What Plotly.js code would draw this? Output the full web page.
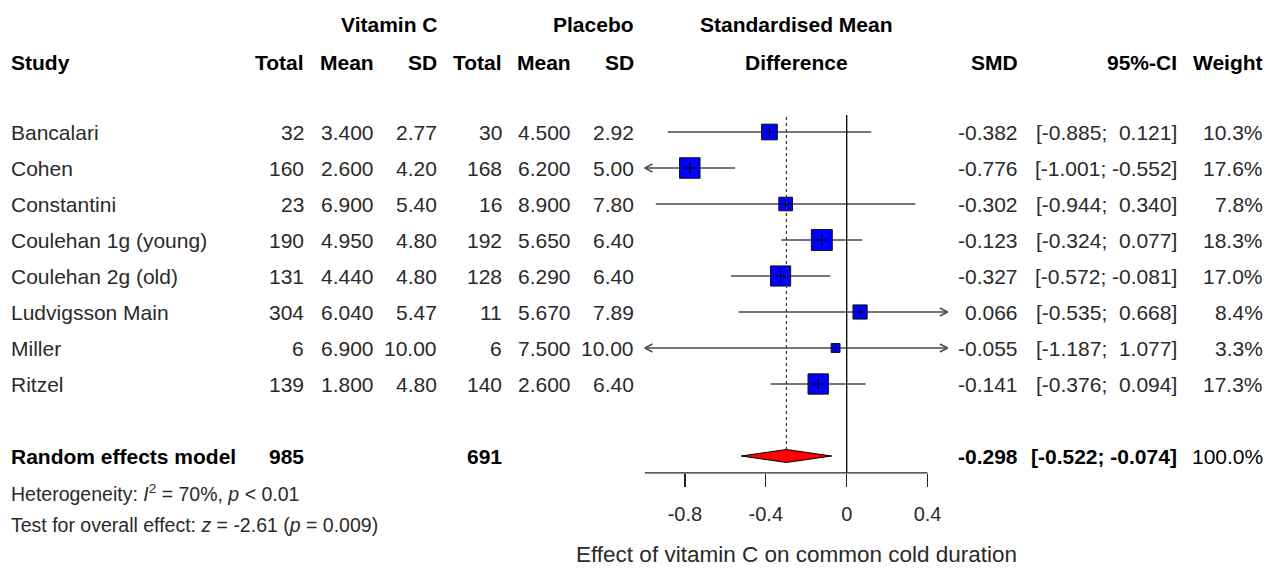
<!DOCTYPE html>
<html>
<head>
<meta charset="utf-8">
<script src="https://cdn.plot.ly/plotly-3.0.1.min.js"></script>
<style>html,body{margin:0;padding:0;background:#fff;}#chart{width:1278px;height:568px;}</style>
</head>
<body>
<div id="chart"></div>
<script>
// ---------------- data ----------------
const studies = ["Bancalari","Cohen","Constantini","Coulehan 1g (young)","Coulehan 2g (old)","Ludvigsson Main","Miller","Ritzel"];
const totalVitC = [32,160,23,190,131,304,6,139];
const meanVitC  = [3.400,2.600,6.900,4.950,4.440,6.040,6.900,1.800];
const sdVitC    = [2.77,4.20,5.40,4.80,4.80,5.47,10.00,4.80];
const totalPlac = [30,168,16,192,128,11,6,140];
const meanPlac  = [4.500,6.200,8.900,5.650,6.290,5.670,7.500,2.600];
const sdPlac    = [2.92,5.00,7.80,6.40,6.40,7.89,10.00,6.40];
const smd       = [-0.382,-0.776,-0.302,-0.123,-0.327,0.066,-0.055,-0.141];
const ciLower   = [-0.885,-1.001,-0.944,-0.324,-0.572,-0.535,-1.187,-0.376];
const ciUpper   = [0.121,-0.552,0.340,0.077,-0.081,0.668,1.077,0.094];
const weights   = [10.3,17.6,7.8,18.3,17.0,8.4,3.3,17.3];
const summaryLabel = "Random effects model";
const summaryTotalVitC = 985;
const summaryTotalPlac = 691;
const summarySMD = -0.298;
const summaryLower = -0.522;
const summaryUpper = -0.074;
const summaryWeight = 100.0;
const tickVals = [-0.8,-0.4,0,0.4];
const tickLabels = ["-0.8","-0.4","0","0.4"];
const xLimits = [-1.0, 0.5];
const axisLineEnd = 0.4;
const heterogeneityText = "Heterogeneity: <i>I</i><sup>2</sup> = 70%, <i>p</i> &lt; 0.01";
const overallText = "Test for overall effect: <i>z</i> = -2.61 (<i>p</i> = 0.009)";
const xTitle = "Effect of vitamin C on common cold duration";

// ---------------- layout helpers ----------------
const W = 1278, H = 568;
const ROW0 = 132, ROWH = 36;           // pixel of first study row & spacing
const yTop = (0 - ROW0) / ROWH, yBot = (H - ROW0) / ROWH;
const rows = studies.map((s, i) => i);
const rowSummary = 9, rowHet = 10.03, rowTest = 10.92, rowTitle = 11.74;
const rowHead1 = -2.99, rowHead2 = -1.94;
const axisRow = 9.47;

const REG = "#2a2a2a", FONT = "Liberation Sans, Arial, sans-serif", FS = 21;
const annotations = [];
function txt(text, xpx, row, anchor, opt) {
  opt = opt || {};
  annotations.push({
    text: text, xref: "paper", yref: "y", x: xpx / W, y: row,
    xanchor: anchor, yanchor: "middle", showarrow: false,
    borderpad: 0, borderwidth: 0,
    font: {family: FONT, size: opt.size || FS, color: opt.color || REG}
  });
}
const B = s => "<b>" + s + "</b>";
const nb = s => s.replace(/ /g, "\u00A0");
function ciStr(lo, hi) {
  const l = lo.toFixed(3), h = hi.toFixed(3);
  return nb("[" + l + ";" + (hi >= 0 ? "  " : " ") + h + "]");
}

// column x positions (pixels, right edge unless noted)
const col = {study: 11, nE: 303.5, mE: 373.5, sE: 436.5, nC: 501.5, mC: 570.5, sC: 633.5,
             plotMid: 796, smd: 1018, ci: 1176.5, w: 1262.5};

// headers
txt(B("Vitamin C"), col.sE, rowHead1, "right", {color: "#000"});
txt(B("Placebo"), col.sC, rowHead1, "right", {color: "#000"});
txt(B("Standardised Mean"), col.plotMid, rowHead1, "center", {color: "#000"});
txt(B("Study"), col.study, rowHead2, "left", {color: "#000"});
txt(B("Total"), col.nE, rowHead2, "right", {color: "#000"});
txt(B("Mean"), col.mE, rowHead2, "right", {color: "#000"});
txt(B("SD"), col.sE, rowHead2, "right", {color: "#000"});
txt(B("Total"), col.nC, rowHead2, "right", {color: "#000"});
txt(B("Mean"), col.mC, rowHead2, "right", {color: "#000"});
txt(B("SD"), col.sC, rowHead2, "right", {color: "#000"});
txt(B("Difference"), col.plotMid, rowHead2, "center", {color: "#000"});
txt(B("SMD"), col.smd, rowHead2, "right", {color: "#000"});
txt(B("95%-CI"), col.ci, rowHead2, "right", {color: "#000"});
txt(B("Weight"), col.w, rowHead2, "right", {color: "#000"});

// study rows
studies.forEach((s, i) => {
  const r = rows[i];
  txt(s, col.study, r, "left");
  txt(String(totalVitC[i]), col.nE, r, "right");
  txt(meanVitC[i].toFixed(3), col.mE, r, "right");
  txt(sdVitC[i].toFixed(2), col.sE, r, "right");
  txt(String(totalPlac[i]), col.nC, r, "right");
  txt(meanPlac[i].toFixed(3), col.mC, r, "right");
  txt(sdPlac[i].toFixed(2), col.sC, r, "right");
  txt(smd[i].toFixed(3), col.smd, r, "right");
  txt(ciStr(ciLower[i], ciUpper[i]), col.ci, r, "right");
  txt(weights[i].toFixed(1) + "%", col.w, r, "right");
});

// summary row
txt(B(summaryLabel), col.study, rowSummary, "left", {color: "#000"});
txt(B(String(summaryTotalVitC)), col.nE, rowSummary, "right", {color: "#000"});
txt(B(String(summaryTotalPlac)), col.nC, rowSummary, "right", {color: "#000"});
txt(B(summarySMD.toFixed(3)), col.smd, rowSummary, "right", {color: "#000"});
txt(B(ciStr(summaryLower, summaryUpper)), col.ci, rowSummary, "right", {color: "#000"});
txt(summaryWeight.toFixed(1) + "%", col.w, rowSummary, "right", {color: "#000"});

// footnotes
txt(heterogeneityText, col.study, rowHet, "left", {size: 19.5});
txt(overallText, col.study, rowTest, "left", {size: 19.5});

// x-axis title (placed as annotation under the axis)
txt(xTitle, col.plotMid, rowTitle, "center", {size: 22.5});

// ---------------- traces ----------------
const clip = v => Math.max(xLimits[0], Math.min(xLimits[1], v));
const ciX = [], ciY = [];
const shapes = [];
const LINEC = "#4a4a4a";
studies.forEach((s, i) => {
  ciX.push(clip(ciLower[i]), clip(ciUpper[i]), null);
  ciY.push(rows[i], rows[i], null);
  if (ciLower[i] < xLimits[0]) {
    shapes.push({type: "path", xref: "x", yref: "y", xsizemode: "pixel", ysizemode: "pixel",
      xanchor: xLimits[0], yanchor: rows[i], path: "M8,4 L0,0 L8,-4",
      line: {color: LINEC, width: 1.5}});
  }
  if (ciUpper[i] > xLimits[1]) {
    shapes.push({type: "path", xref: "x", yref: "y", xsizemode: "pixel", ysizemode: "pixel",
      xanchor: xLimits[1], yanchor: rows[i], path: "M-8,4 L0,0 L-8,-4",
      line: {color: LINEC, width: 1.5}});
  }
});

const sqSize = weights.map(w => 20.5 * Math.sqrt(w / 17.6));

const diamondH = 0.18;
const traces = [
  {x: ciX, y: ciY, mode: "lines", line: {color: LINEC, width: 1.5}, cliponaxis: false, hoverinfo: "skip"},
  {x: smd, y: rows, mode: "markers", cliponaxis: false,
   marker: {symbol: "square", size: sqSize, opacity: 1, color: "#0000ff", line: {color: "#111", width: 1}}},
  {x: smd, y: rows, mode: "markers", cliponaxis: false,
   marker: {symbol: "cross-thin", size: sqSize.map(s => s * 0.42), opacity: 1, color: "#000", line: {color: "#000", width: 1}}},
  {x: [summaryLower, summarySMD, summaryUpper, summarySMD, summaryLower],
   y: [rowSummary, rowSummary - diamondH, rowSummary, rowSummary + diamondH, rowSummary],
   mode: "lines", fill: "toself", fillcolor: "#ff0000", line: {color: "#000", width: 1}, cliponaxis: false}
];

// reference lines
shapes.push({type: "line", xref: "x", yref: "y", x0: 0, x1: 0, y0: -0.47, y1: axisRow,
  line: {color: "#000", width: 1.3}});
shapes.push({type: "line", xref: "x", yref: "y", x0: summarySMD, x1: summarySMD, y0: -0.42, y1: rowSummary - diamondH,
  line: {color: "#333", width: 1.2, dash: "dot"}});
// axis line
shapes.push({type: "line", xref: "x", yref: "y", x0: xLimits[0], x1: axisLineEnd, y0: axisRow, y1: axisRow,
  line: {color: "#222", width: 1.3}});

const x0px = 846.7 + xLimits[0] * 202.2, x1px = 846.7 + xLimits[1] * 202.2;

const layout = {
  width: W, height: H,
  margin: {l: 0, r: 0, t: 0, b: 0},
  paper_bgcolor: "#fff", plot_bgcolor: "rgba(0,0,0,0)",
  showlegend: false,
  xaxis: {
    domain: [x0px / W, x1px / W], range: xLimits, anchor: "free", position: (H - (ROW0 + ROWH * axisRow)) / H,
    showgrid: false, zeroline: false, showline: false,
    ticks: "outside", ticklen: 13, tickwidth: 1.3, tickcolor: "#222",
    tickvals: tickVals, ticktext: tickLabels, ticklabelstandoff: 10,
    tickfont: {family: FONT, size: 20, color: REG},
    fixedrange: true
  },
  yaxis: {domain: [0, 1], range: [yBot, yTop], visible: false, fixedrange: true},
  annotations: annotations,
  shapes: shapes
};

Plotly.newPlot("chart", traces, layout, {staticPlot: true, displayModeBar: false});
</script>
</body>
</html>
